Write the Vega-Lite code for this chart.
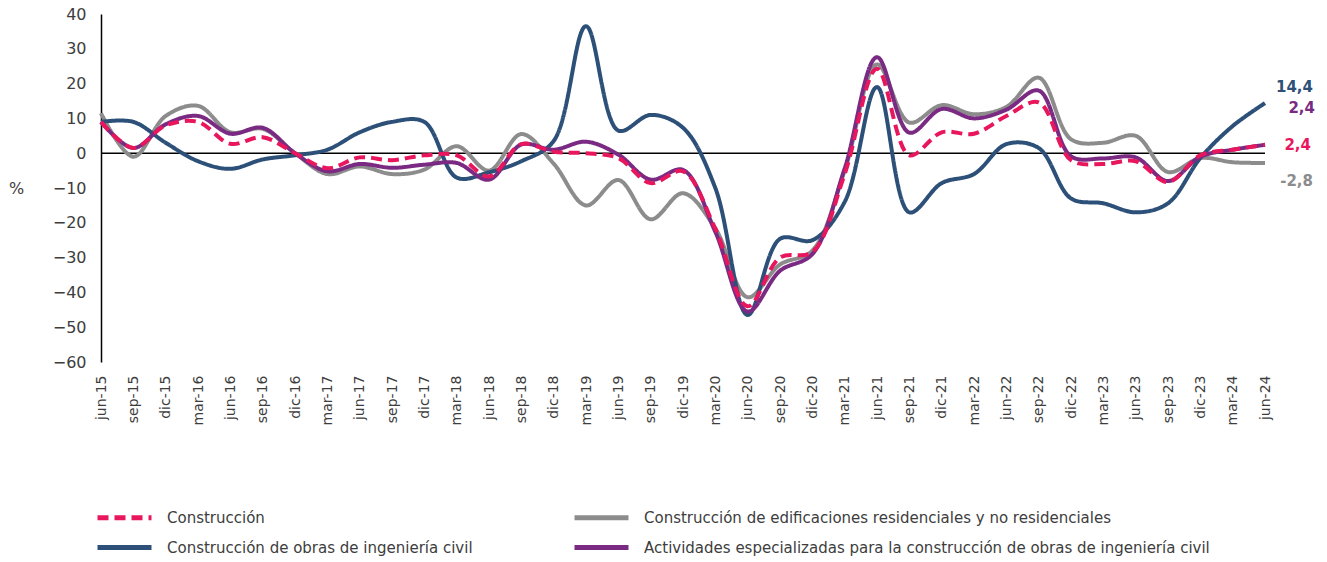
{
  "$schema": "https://vega.github.io/schema/vega-lite/v6.json",
  "autosize": "none",
  "width": 1164,
  "height": 348,
  "padding": {"left": 101, "top": 14, "right": 62, "bottom": 200},
  "config": {
    "view": {"stroke": null},
    "font": "DejaVu Sans",
    "axis": {"labelColor": "#3d3d3d", "titleColor": "#3d3d3d", "labelFont": "DejaVu Sans", "titleFont": "DejaVu Sans"},
    "axisY": {"labelOverlap": false, "grid": false, "ticks": false, "domain": true, "domainColor": "#000000", "domainWidth": 1.5, "labelPadding": 15, "labelFontSize": 16, "tickCount": 11},
    "legend": {"labelColor": "#3d3d3d", "labelFont": "DejaVu Sans"}
  },
  "datasets": {
    "series": [
      {"q": "jun-15", "c": 9, "e": 11.5, "o": 9, "a": 9},
      {"q": "sep-15", "c": 1.5, "e": -1, "o": 9, "a": 1.5},
      {"q": "dic-15", "c": 8, "e": 10.7, "o": 3, "a": 8.3},
      {"q": "mar-16", "c": 9, "e": 13.6, "o": -2.3, "a": 10.7},
      {"q": "jun-16", "c": 2.7, "e": 6, "o": -4.5, "a": 5.6},
      {"q": "sep-16", "c": 4.6, "e": 7, "o": -1.8, "a": 7.3},
      {"q": "dic-16", "c": 0, "e": 0, "o": -0.6, "a": 0},
      {"q": "mar-17", "c": -4.3, "e": -6, "o": 1, "a": -5.2},
      {"q": "jun-17", "c": -1.2, "e": -3.8, "o": 6, "a": -3.1},
      {"q": "sep-17", "c": -2, "e": -6, "o": 9, "a": -4.2},
      {"q": "dic-17", "c": -0.6, "e": -4.7, "o": 9, "a": -3.3},
      {"q": "mar-18", "c": -0.6, "e": 2, "o": -7, "a": -2.8},
      {"q": "jun-18", "c": -6.7, "e": -5, "o": -5.5, "a": -7.6},
      {"q": "sep-18", "c": 2.6, "e": 5.5, "o": -2.3, "a": 2.5},
      {"q": "dic-18", "c": 0.4, "e": -3, "o": 3.5, "a": 1},
      {"q": "mar-19", "c": 0, "e": -15, "o": 36.5, "a": 3.3},
      {"q": "jun-19", "c": -1.4, "e": -7.7, "o": 6.5, "a": -0.4},
      {"q": "sep-19", "c": -8.6, "e": -19, "o": 11, "a": -7.6},
      {"q": "dic-19", "c": -5.2, "e": -11.5, "o": 7.3, "a": -4.8},
      {"q": "mar-20", "c": -21.7, "e": -21.6, "o": -10, "a": -22.6},
      {"q": "jun-20", "c": -44, "e": -41.4, "o": -46.5, "a": -45.5},
      {"q": "sep-20", "c": -30, "e": -32, "o": -24.6, "a": -33.8},
      {"q": "dic-20", "c": -28.4, "e": -28, "o": -25, "a": -29},
      {"q": "mar-21", "c": -6, "e": -5, "o": -14, "a": -4.4},
      {"q": "jun-21", "c": 24.3, "e": 25.5, "o": 19, "a": 27.6},
      {"q": "sep-21", "c": -0.6, "e": 8.8, "o": -17, "a": 5.9},
      {"q": "dic-21", "c": 6, "e": 13.8, "o": -8.6, "a": 12.7},
      {"q": "mar-22", "c": 5.6, "e": 11.2, "o": -6, "a": 10},
      {"q": "jun-22", "c": 10.7, "e": 13.3, "o": 2.6, "a": 12.5},
      {"q": "sep-22", "c": 14.6, "e": 21.7, "o": 1.5, "a": 18},
      {"q": "dic-22", "c": -2, "e": 4, "o": -13, "a": -0.9},
      {"q": "mar-23", "c": -3.1, "e": 3, "o": -14.4, "a": -1.5},
      {"q": "jun-23", "c": -2.3, "e": 5, "o": -17, "a": -1.2},
      {"q": "sep-23", "c": -8.3, "e": -5.4, "o": -14.4, "a": -8},
      {"q": "dic-23", "c": -0.6, "e": -1.4, "o": -1.4, "a": -1},
      {"q": "mar-24", "c": 1, "e": -2.6, "o": 7.8, "a": 1},
      {"q": "jun-24", "c": 2.4, "e": -2.8, "o": 14.4, "a": 2.4}
    ],
    "ends": [
      {"q": "jun-24", "serie": "o", "value": 14.4, "label": "14,4"},
      {"q": "jun-24", "serie": "a", "value": 2.4, "label": "2,4"},
      {"q": "jun-24", "serie": "c", "value": 2.4, "label": "2,4"},
      {"q": "jun-24", "serie": "e", "value": -2.8, "label": "-2,8"}
    ]
  },
  "layer": [
    {
      "data": {"values": [{"z": 0}]},
      "mark": {"type": "rule", "color": "#000000", "strokeWidth": 1.5},
      "encoding": {"y": {"datum": 0, "type": "quantitative", "scale": {"domain": [-60, 40], "nice": false, "zero": false}, "axis": {"values": [-60, -50, -40, -30, -20, -10, 0, 10, 20, 30, 40], "labelOverlap": false, "tickCount": 11, "title": "%", "titleAngle": 0, "titleX": -85, "titleY": 174, "titleAlign": "center", "titleBaseline": "middle", "titleFontSize": 16, "titleFontWeight": "normal"}}}
    },
    {
      "data": {"name": "series"},
      "transform": [{"fold": ["e", "o", "a", "c"], "as": ["serie", "value"]}],
      "mark": {"type": "line", "interpolate": "catmull-rom", "strokeWidth": 4, "strokeCap": "butt"},
      "encoding": {
        "x": {
          "field": "q", "type": "ordinal", "sort": null,
          "scale": {"type": "point", "padding": 0},
          "axis": {"labelAngle": -90, "labelAlign": "right", "labelBaseline": "middle", "ticks": false, "domain": false, "grid": false, "labelPadding": 13, "labelFontSize": 14, "title": null}
        },
        "y": {
          "field": "value", "type": "quantitative",
          "scale": {"domain": [-60, 40], "nice": false, "zero": false},
          "axis": {"values": [-60, -50, -40, -30, -20, -10, 0, 10, 20, 30, 40], "labelOverlap": false, "tickCount": 11, "title": "%", "titleAngle": 0, "titleX": -85, "titleY": 174, "titleAlign": "center", "titleBaseline": "middle", "titleFontSize": 16, "titleFontWeight": "normal"}
        },
        "color": {
          "field": "serie", "type": "nominal",
          "scale": {"domain": ["c", "o", "e", "a"], "range": ["#e8175d", "#2c5078", "#8c8c8c", "#7a2a82"]},
          "legend": {
            "orient": "none", "legendX": 12, "legendY": 492, "columns": 2, "columnPadding": 91, "rowPadding": 8,
            "title": null, "symbolType": "M-3,0H3", "symbolSize": 324, "symbolStrokeWidth": 5,
            "labelFontSize": 15, "labelOffset": 31, "labelLimit": 700,
            "labelExpr": "{'c': 'Construcción', 'e': 'Construcción de edificaciones residenciales y no residenciales', 'o': 'Construcción de obras de ingeniería civil', 'a': 'Actividades especializadas para la construcción de obras de ingeniería civil'}[datum.label]"
          }
        },
        "strokeDash": {
          "field": "serie", "type": "nominal",
          "scale": {"domain": ["c", "o", "e", "a"], "range": [[11, 6], [1, 0], [1, 0], [1, 0]]},
          "legend": null
        }
      }
    },
    {
      "data": {"name": "ends"},
      "transform": [{"filter": "datum.serie == 'o'"}],
      "mark": {"type": "text", "align": "right", "baseline": "middle", "dx": 48, "dy": -16, "fontSize": 15, "fontWeight": "bold", "color": "#2c5078"},
      "encoding": {"x": {"field": "q", "type": "ordinal", "sort": null}, "y": {"field": "value", "type": "quantitative", "axis": {"values": [-60, -50, -40, -30, -20, -10, 0, 10, 20, 30, 40], "labelOverlap": false, "tickCount": 11}}, "text": {"field": "label"}}
    },
    {
      "data": {"name": "ends"},
      "transform": [{"filter": "datum.serie == 'a'"}],
      "mark": {"type": "text", "align": "right", "baseline": "middle", "dx": 50, "dy": -37, "fontSize": 15, "fontWeight": "bold", "color": "#7a2a82"},
      "encoding": {"x": {"field": "q", "type": "ordinal", "sort": null}, "y": {"field": "value", "type": "quantitative", "axis": {"values": [-60, -50, -40, -30, -20, -10, 0, 10, 20, 30, 40], "labelOverlap": false, "tickCount": 11}}, "text": {"field": "label"}}
    },
    {
      "data": {"name": "ends"},
      "transform": [{"filter": "datum.serie == 'c'"}],
      "mark": {"type": "text", "align": "right", "baseline": "middle", "dx": 46, "dy": 0, "fontSize": 15, "fontWeight": "bold", "color": "#e8175d"},
      "encoding": {"x": {"field": "q", "type": "ordinal", "sort": null}, "y": {"field": "value", "type": "quantitative", "axis": {"values": [-60, -50, -40, -30, -20, -10, 0, 10, 20, 30, 40], "labelOverlap": false, "tickCount": 11}}, "text": {"field": "label"}}
    },
    {
      "data": {"name": "ends"},
      "transform": [{"filter": "datum.serie == 'e'"}],
      "mark": {"type": "text", "align": "right", "baseline": "middle", "dx": 48, "dy": 18, "fontSize": 15, "fontWeight": "bold", "color": "#8c8c8c"},
      "encoding": {"x": {"field": "q", "type": "ordinal", "sort": null}, "y": {"field": "value", "type": "quantitative", "axis": {"values": [-60, -50, -40, -30, -20, -10, 0, 10, 20, 30, 40], "labelOverlap": false, "tickCount": 11}}, "text": {"field": "label"}}
    }
  ]
}
